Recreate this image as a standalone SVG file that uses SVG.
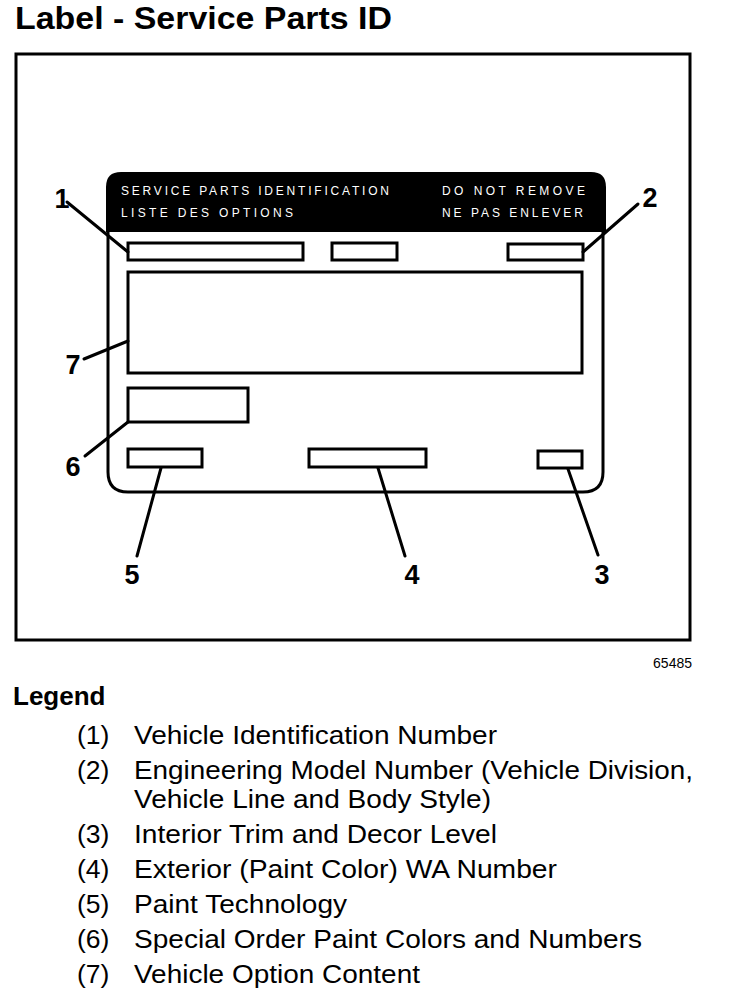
<svg xmlns="http://www.w3.org/2000/svg" width="736" height="996" viewBox="0 0 736 996">
<style>
.ln{fill:none;stroke:#000;stroke-width:3;stroke-linecap:round;stroke-linejoin:round}
.bx{fill:#fff;stroke:#000;stroke-width:3}
.num{font-family:"Liberation Sans",Arial,sans-serif;font-weight:bold;font-size:27px;fill:#000;text-anchor:middle}
.hd{font-family:"Liberation Sans",Arial,sans-serif;font-size:12px;fill:#fff}
.lg{font-family:"Liberation Sans",Arial,sans-serif;font-size:26.5px;fill:#000}
</style>
<rect width="736" height="996" fill="#fff"/>
<text x="15" y="29" font-family="Liberation Sans, Arial, sans-serif" font-weight="bold" font-size="31" textLength="377" lengthAdjust="spacingAndGlyphs">Label - Service Parts ID</text>
<rect x="16" y="54" width="674" height="586" fill="none" stroke="#000" stroke-width="3"/>
<g id="label-panel">
<path class="ln" d="M108,232 V472 Q108,492 128,492 H583 Q603,492 603,472 V232"/>
<path d="M106,232 V187 Q106,172 121,172 H591 Q606,172 606,187 V232 Z" fill="#000"/>
<text class="hd" x="121" y="195" textLength="268" lengthAdjust="spacing">SERVICE PARTS IDENTIFICATION</text>
<text class="hd" x="121" y="217" textLength="172" lengthAdjust="spacing">LISTE DES OPTIONS</text>
<text class="hd" x="442" y="195" textLength="143" lengthAdjust="spacing">DO NOT REMOVE</text>
<text class="hd" x="442" y="217" textLength="141" lengthAdjust="spacing">NE PAS ENLEVER</text>
</g>
<g id="box1"><rect class="bx" x="128" y="243" width="175" height="17"/></g>
<g id="box-mid"><rect class="bx" x="332" y="243" width="65" height="17"/></g>
<g id="box2"><rect class="bx" x="508" y="244" width="75" height="16"/></g>
<g id="box7"><rect class="bx" x="128" y="272" width="454" height="101"/></g>
<g id="box6"><rect class="bx" x="128" y="388" width="120" height="34"/></g>
<g id="box5"><rect class="bx" x="128" y="449" width="74" height="18"/></g>
<g id="box4"><rect class="bx" x="309" y="449" width="117" height="18"/></g>
<g id="box3"><rect class="bx" x="538" y="451" width="44" height="17"/></g>
<g id="connectors">
<line class="ln" x1="67" y1="202" x2="128" y2="252"/>
<line class="ln" x1="638" y1="204" x2="583" y2="252"/>
<line class="ln" x1="84" y1="359" x2="128" y2="341"/>
<line class="ln" x1="85" y1="456" x2="128" y2="422"/>
<line class="ln" x1="161" y1="468" x2="137" y2="556"/>
<line class="ln" x1="378" y1="468" x2="405" y2="556"/>
<line class="ln" x1="568" y1="469" x2="598" y2="555"/>
</g>
<g id="callouts">
<text class="num" x="62" y="208">1</text>
<text class="num" x="650" y="207">2</text>
<text class="num" x="73" y="374">7</text>
<text class="num" x="73" y="476">6</text>
<text class="num" x="132" y="584">5</text>
<text class="num" x="412" y="584">4</text>
<text class="num" x="602" y="584">3</text>
</g>
<text x="692" y="668" font-family="Liberation Sans, Arial, sans-serif" font-size="14" text-anchor="end">65485</text>
<g id="legend">
<text x="13" y="705" font-family="Liberation Sans, Arial, sans-serif" font-weight="bold" font-size="26">Legend</text>
<text class="lg" x="77" y="744">(1)</text><text class="lg" x="134" y="744" textLength="363" lengthAdjust="spacingAndGlyphs">Vehicle Identification Number</text>
<text class="lg" x="77" y="779">(2)</text><text class="lg" x="134" y="779" textLength="559" lengthAdjust="spacingAndGlyphs">Engineering Model Number (Vehicle Division,</text>
<text class="lg" x="134" y="808" textLength="357" lengthAdjust="spacingAndGlyphs">Vehicle Line and Body Style)</text>
<text class="lg" x="77" y="843">(3)</text><text class="lg" x="134" y="843" textLength="363" lengthAdjust="spacingAndGlyphs">Interior Trim and Decor Level</text>
<text class="lg" x="77" y="878">(4)</text><text class="lg" x="134" y="878" textLength="423" lengthAdjust="spacingAndGlyphs">Exterior (Paint Color) WA Number</text>
<text class="lg" x="77" y="913">(5)</text><text class="lg" x="134" y="913" textLength="213" lengthAdjust="spacingAndGlyphs">Paint Technology</text>
<text class="lg" x="77" y="948">(6)</text><text class="lg" x="134" y="948" textLength="508" lengthAdjust="spacingAndGlyphs">Special Order Paint Colors and Numbers</text>
<text class="lg" x="77" y="983">(7)</text><text class="lg" x="134" y="983" textLength="286" lengthAdjust="spacingAndGlyphs">Vehicle Option Content</text>
</g>
</svg>
